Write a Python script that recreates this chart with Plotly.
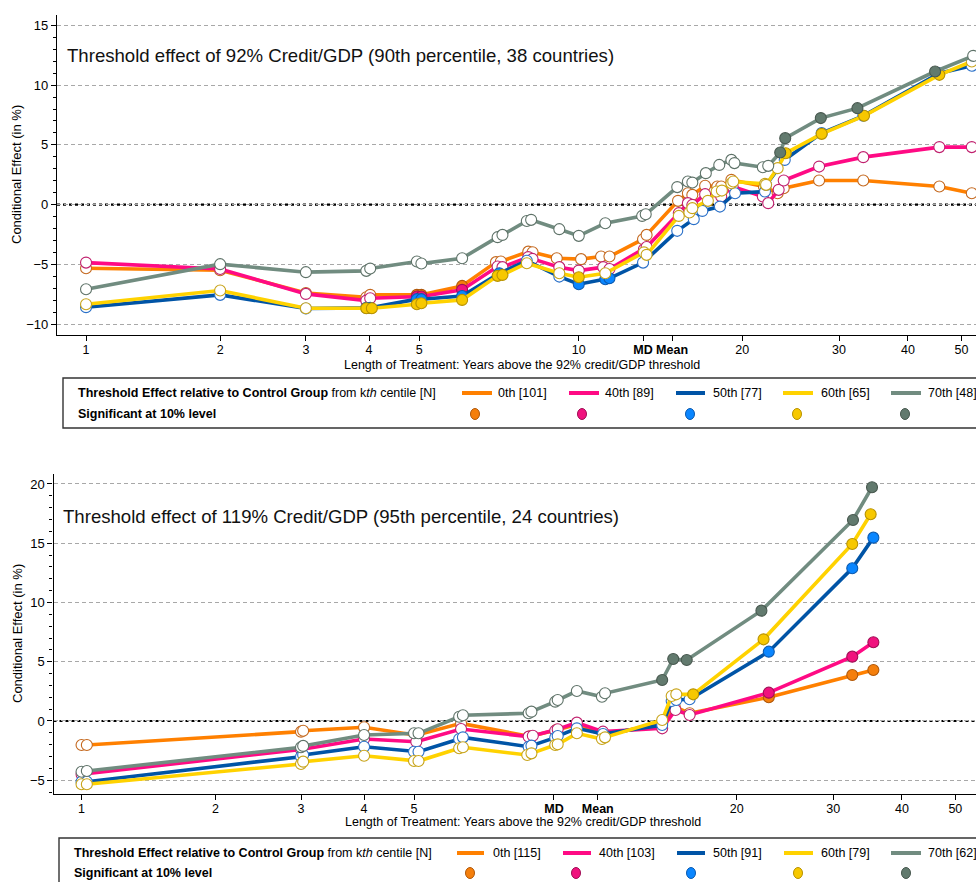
import plotly.graph_objects as go

W, H = 976, 882
OFFSET = 0.35  # treatment length is shown on a log(years + OFFSET) axis

# ---------------- Panel A: 92% Credit/GDP threshold ----------------
a_x_0 = [1, 2, 3, 3.95, 4.02, 4.95, 5.05, 6.04, 7.0, 7.15, 8.05, 8.2, 9.1, 10.1, 11.0, 11.4, 13.15, 13.35,
         15.25, 15.9, 16.2, 17.1, 18.0, 18.3, 19.1, 21.9, 23.2, 23.8, 27.6, 33.2, 45.6, 52.2]
a_y_0 = [-5.33, -5.5, -7.4, -7.76, -7.56, -7.56, -7.56, -6.81, -4.82, -4.77, -3.94, -3.99, -4.49, -4.57, -4.35, -4.35,
         -2.9, -2.54, 0.31, 0.95, 0.81, 1.57, 1.51, 1.51, 2.07, 1.51, 0.95, 1.37, 2.01, 2.01, 1.51, 0.95]
a_s_0 = [0, 0, 0, 0, 0, 1, 1, 1, 0, 0, 0, 0, 0, 0, 0, 0, 0, 0, 0, 0, 0, 0, 0, 0, 0, 0, 0, 0, 0, 0, 0, 0]

a_x_40 = [1, 2, 3, 3.95, 4.02, 4.95, 5.05, 6.04, 7.05, 7.2, 8.05, 8.2, 9.2, 10.0, 11.1, 11.4, 13.2, 13.35,
          15.3, 15.9, 16.2, 17.1, 18.3, 19.2, 21.8, 22.3, 23.3, 23.8, 27.6, 33.2, 45.6, 52.2]
a_y_40 = [-4.86, -5.4, -7.48, -8.04, -7.84, -7.7, -7.7, -7.14, -5.19, -5.24, -4.4, -4.55, -5.24, -5.53, -5.24, -5.4,
          -3.74, -3.55, -0.72, 0.12, -0.03, 0.87, 0.67, 1.51, 0.67, 0.12, 1.23, 2.01, 3.18, 3.97, 4.81, 4.81]
a_s_40 = [0, 0, 0, 0, 0, 1, 1, 1, 0, 0, 0, 0, 0, 0, 0, 0, 0, 0, 0, 0, 0, 0, 0, 0, 0, 0, 0, 0, 0, 0, 0, 0]

a_x_50 = [1, 2, 3, 3.95, 4.02, 4.95, 5.05, 6.04, 7.1, 8.0, 9.2, 10.0, 11.2, 11.4, 13.15, 15.2, 16.3, 16.9,
          18.2, 19.4, 22.0, 22.1, 23.9, 27.9, 33.2, 45.6, 52.2]
a_y_50 = [-8.59, -7.56, -8.7, -8.65, -8.65, -7.92, -7.92, -7.65, -5.75, -4.7, -6.03, -6.67, -6.25, -6.17, -4.86,
          -2.2, -1.22, -0.53, -0.17, 0.95, 1.09, 1.65, 3.74, 5.98, 7.43, 11.0, 11.62]
a_s_50 = [0, 0, 0, 1, 1, 1, 1, 1, 1, 0, 0, 1, 1, 1, 0, 0, 0, 0, 0, 0, 0, 0, 0, 0, 0, 0, 0]

a_x_60 = [1, 2, 3, 3.95, 4.05, 4.95, 5.05, 6.04, 7.05, 7.2, 8.0, 9.2, 10.0, 11.2, 13.2, 13.35, 15.3, 16.0,
          16.2, 17.3, 17.95, 18.35, 19.1, 19.25, 22.0, 22.1, 23.2, 24.0, 27.9, 33.3, 45.6, 52.2]
a_y_60 = [-8.34, -7.2, -8.68, -8.68, -8.68, -8.34, -8.26, -7.98, -5.97, -5.89, -4.91, -5.75, -6.08, -5.75, -4.0, -4.21,
          -0.95, -0.67, -0.30, 0.31, 1.09, 1.17, 1.79, 1.93, 1.73, 1.65, 3.05, 4.3, 5.92, 7.43, 10.86, 11.98]
a_s_60 = [0, 0, 0, 1, 1, 1, 1, 1, 1, 1, 0, 0, 1, 0, 0, 0, 0, 0, 0, 0, 0, 0, 0, 0, 0, 0, 0, 1, 1, 1, 1, 0]

a_x_70 = [1, 2, 3, 3.95, 4.02, 4.95, 5.05, 6.04, 7.05, 7.2, 8.0, 8.15, 9.2, 10.0, 11.2, 13.1, 13.3, 15.2,
          15.9, 16.2, 17.15, 18.15, 19.1, 19.35, 21.8, 22.3, 23.45, 23.95, 27.8, 32.4, 44.8, 52.5]
a_y_70 = [-7.09, -4.99, -5.66, -5.55, -5.36, -4.77, -4.94, -4.49, -2.73, -2.54, -1.37, -1.28, -2.06, -2.62, -1.56,
          -0.95, -0.81, 1.46, 1.93, 1.84, 2.63, 3.32, 3.74, 3.47, 3.13, 3.24, 4.36, 5.56, 7.24, 8.07, 11.14, 12.45]
a_s_70 = [0, 0, 0, 0, 0, 0, 0, 0, 0, 0, 0, 0, 0, 0, 0, 0, 0, 0, 0, 0, 0, 0, 0, 0, 0, 0, 1, 1, 1, 1, 1, 0]

a_n = ["101", "89", "77", "65", "48"]
a_md, a_mean = 13.15, 14.87

# ---------------- Panel B: 119% Credit/GDP threshold ----------------
b_x_0 = [1, 1.03, 3, 3.03, 4, 5.05, 6.15, 8.3, 9.3, 10.15, 11.35, 14.6, 15.4, 16.4, 22.9, 32.5, 35.5]
b_y_0 = [-2.03, -2.03, -0.9, -0.82, -0.53, -1.2, -0.2, -1.3, -0.75, -0.3, -1.2, -0.2, 1.2, 0.65, 2.0, 3.88, 4.3]
b_s_0 = [0, 0, 0, 0, 0, 0, 0, 0, 0, 0, 0, 0, 0, 0, 1, 1, 1]

b_x_40 = [1, 3, 4, 5.05, 6.15, 8.25, 8.4, 9.25, 9.35, 10.15, 11.35, 14.6, 15.45, 16.4, 22.9, 32.5, 35.5]
b_y_40 = [-4.5, -2.4, -1.52, -1.75, -0.68, -1.32, -1.24, -0.82, -0.7, -0.14, -0.9, -0.62, 0.93, 0.51, 2.39, 5.43, 6.64]
b_s_40 = [0, 0, 0, 0, 0, 0, 0, 0, 0, 0, 0, 0, 0, 0, 1, 1, 1]

b_x_50 = [1, 1.03, 3, 3.03, 4, 5.0, 5.1, 6.1, 6.2, 8.25, 8.35, 9.25, 9.35, 10.15, 11.35, 14.6, 15.2, 15.5,
          16.4, 22.9, 32.5, 35.5]
b_y_50 = [-5.12, -5.12, -3.01, -2.87, -2.17, -2.59, -2.59, -1.52, -1.38, -2.17, -2.08, -1.41, -1.27, -0.62, -1.1,
          -0.34, 1.69, 1.77, 1.83, 5.85, 12.89, 15.47]
b_s_50 = [0, 0, 0, 0, 0, 0, 0, 0, 0, 0, 0, 0, 0, 0, 0, 0, 0, 0, 0, 1, 1, 1]

b_x_60 = [1, 1.03, 3, 3.03, 4, 5.0, 5.1, 6.1, 6.2, 8.2, 8.35, 9.25, 9.35, 10.15, 11.3, 11.45, 14.6, 15.2, 15.5,
          16.65, 22.4, 32.5, 35.1]
b_y_60 = [-5.34, -5.34, -3.63, -3.43, -2.93, -3.38, -3.38, -2.3, -2.22, -2.87, -2.73, -2.03, -1.97, -1.04, -1.52,
          -1.38, 0.08, 2.11, 2.25, 2.25, 6.89, 14.94, 17.44]
b_s_60 = [0, 0, 0, 0, 0, 0, 0, 0, 0, 0, 0, 0, 0, 0, 0, 0, 0, 0, 0, 1, 1, 1, 1]

b_x_70 = [1, 1.03, 3, 3.03, 4, 5.0, 5.1, 6.1, 6.2, 8.25, 8.35, 9.25, 9.35, 10.15, 11.3, 11.45, 14.6, 15.3, 16.2,
          22.2, 32.6, 35.3]
b_y_70 = [-4.28, -4.22, -2.22, -2.1, -1.18, -1.04, -1.04, 0.36, 0.48, 0.65, 0.79, 1.63, 1.77, 2.53, 2.05, 2.34,
          3.46, 5.23, 5.15, 9.31, 16.96, 19.72]
b_s_70 = [0, 0, 0, 0, 0, 0, 0, 0, 0, 0, 0, 0, 0, 0, 0, 0, 1, 1, 1, 1, 1, 1]

b_n = ["115", "103", "91", "79", "62"]
b_md, b_mean = 9.2, 11.1

centiles = ["0th", "40th", "50th", "60th", "70th"]
line_col = ["#FF8000", "#FF0A84", "#0054A6", "#FFD200", "#718C80"]
fill_col = ["#F57F0C", "#F0127E", "#0A86FF", "#F7C800", "#627A6E"]
edge_sig = ["#B0580A", "#A00E55", "#0B5AB0", "#B89200", "#48584F"]
edge_open = ["#C4681E", "#C0206E", "#2A70C8", "#C8A41A", "#5E7268"]

year_ticks = [1, 2, 3, 4, 5, 10, 20, 30, 40, 50]

SANS = "Liberation Sans, Arial, sans-serif"
NARROW = "Liberation Sans Narrow, Arial Narrow, Liberation Sans, sans-serif"


def fx(px):
    return px / W


def fy(py):
    return 1 - py / H


fig = go.Figure()

panels = [
    ("x", "y", [(a_x_0, a_y_0, a_s_0), (a_x_40, a_y_40, a_s_40), (a_x_50, a_y_50, a_s_50),
                (a_x_60, a_y_60, a_s_60), (a_x_70, a_y_70, a_s_70)]),
    ("x2", "y2", [(b_x_0, b_y_0, b_s_0), (b_x_40, b_y_40, b_s_40), (b_x_50, b_y_50, b_s_50),
                  (b_x_60, b_y_60, b_s_60), (b_x_70, b_y_70, b_s_70)]),
]

for xa, ya, series in panels:
    for i, (xs, ys, sig) in enumerate(series):
        fig.add_trace(go.Scatter(
            x=[v + OFFSET for v in xs], y=ys, mode="lines+markers",
            xaxis=xa, yaxis=ya, showlegend=False, name=centiles[i],
            line=dict(color=line_col[i], width=3.6),
            marker=dict(size=11,
                        color=[fill_col[i] if s else "white" for s in sig],
                        line=dict(color=[edge_sig[i] if s else edge_open[i] for s in sig], width=1.1)),
        ))


def x_axis(domain, lo, hi, md, mean, show10, anchor):
    ticks = [t for t in year_ticks if show10 or t != 10]
    vals = ticks + [md, mean]
    txt = [str(t) for t in ticks] + ["<b>MD</b>", "<b>Mean</b>"]
    return dict(
        type="log", domain=domain, range=[lo, hi], anchor=anchor,
        tickvals=[v + OFFSET for v in vals], ticktext=txt,
        ticks="outside", ticklen=5, tickwidth=1, tickcolor="black", ticklabelstandoff=-2,
        showline=True, linecolor="black", linewidth=1.2, showgrid=False, zeroline=False,
        tickfont=dict(family=NARROW, size=12.5, color="black"), automargin=False,
    )


def y_axis(domain, rng, anchor):
    return dict(
        domain=domain, range=rng, dtick=5, tick0=0, anchor=anchor,
        ticks="outside", ticklen=5, tickwidth=1, tickcolor="black",
        minor=dict(dtick=1, ticks="outside", ticklen=3, tickcolor="black", showgrid=False),
        showline=True, linecolor="black", linewidth=1.2,
        showgrid=True, gridcolor="#A8A8A8", gridwidth=1, griddash="4px,3px",
        zeroline=False, tickfont=dict(family=SANS, size=13, color="black"), automargin=False,
    )


fig.update_layout(
    width=W, height=H, margin=dict(l=0, r=0, t=0, b=0),
    paper_bgcolor="white", plot_bgcolor="white",
    xaxis=x_axis([57 / W, 1], 0.0782, 1.7281, a_md, a_mean, True, "y"),
    xaxis2=x_axis([53.5 / W, 1], 0.0799, 1.7391, b_md, b_mean, False, "y2"),
    yaxis=y_axis([1 - 335 / H, 1 - 15 / H], [-10.92, 15.87], "x"),
    yaxis2=y_axis([1 - 794 / H, 1 - 474 / H], [-6.16, 20.84], "x2"),
)

shapes = []
# dotted zero reference lines
for xr, yr in [("x domain", "y"), ("x2 domain", "y2")]:
    shapes.append(dict(type="line", xref=xr, yref=yr, x0=0, x1=1, y0=0, y1=0, layer="below",
                       line=dict(color="black", width=2.2, dash="3px,3px")))

ann = []
ann.append(dict(x=fx(65), y=fy(55), text="Threshold effect of 92% Credit/GDP (90th percentile, 38 countries)",
                xanchor="left", yanchor="middle", font=dict(family=SANS, size=18.6, color="#111")))
ann.append(dict(x=fx(61), y=fy(516), text="Threshold effect of 119% Credit/GDP (95th percentile, 24 countries)",
                xanchor="left", yanchor="middle", font=dict(family=SANS, size=18.6, color="#111")))
for cy in (175, 634):
    ann.append(dict(x=fx(17), y=fy(cy), text="Conditional Effect (in %)", textangle=-90,
                    xanchor="center", yanchor="middle", font=dict(family=SANS, size=13, color="black")))
for cx, cy in ((522, 365), (523, 822)):
    ann.append(dict(x=fx(cx), y=fy(cy), text="Length of Treatment: Years above the 92% credit/GDP threshold",
                    xanchor="center", yanchor="middle", font=dict(family=NARROW, size=12.5, color="black")))

# legend boxes drawn below each panel
legends = [
    dict(box_x=63, top=378, row1=393, row2=414, text_x=76,
         line_x=[(462, 492), (569, 599), (676, 705), (783, 813), (891, 921)],
         lab_x=[496, 603, 711, 819, 926], dot_x=[475, 582, 690, 797, 905], n=a_n),
    dict(box_x=59, top=838, row1=853, row2=873, text_x=72,
         line_x=[(457, 484), (563, 591), (677, 705), (784, 813), (891, 921)],
         lab_x=[491, 597, 711, 819, 926], dot_x=[470, 576, 691, 798, 906], n=b_n),
]
for lg in legends:
    shapes.append(dict(type="rect", xref="paper", yref="paper",
                       x0=fx(lg["box_x"]), x1=fx(1000), y0=fy(lg["top"] + 50), y1=fy(lg["top"]),
                       line=dict(color="#333333", width=1.4)))
    ann.append(dict(x=fx(lg["text_x"]), y=fy(lg["row1"]), xanchor="left", yanchor="middle",
                    text="<b>Threshold Effect relative to Control Group</b> from k<i>th</i> centile [N]",
                    font=dict(family=NARROW, size=12.5, color="black")))
    ann.append(dict(x=fx(lg["text_x"]), y=fy(lg["row2"]), xanchor="left", yanchor="middle",
                    text="<b>Significant at 10% level</b>",
                    font=dict(family=NARROW, size=12.5, color="black")))
    for i in range(5):
        x0, x1 = lg["line_x"][i]
        shapes.append(dict(type="line", xref="paper", yref="paper", x0=fx(x0), x1=fx(x1),
                           y0=fy(lg["row1"]), y1=fy(lg["row1"]), line=dict(color=line_col[i], width=4)))
        ann.append(dict(x=fx(lg["lab_x"][i]), y=fy(lg["row1"]), xanchor="left", yanchor="middle",
                        text=f"{centiles[i]} [{lg['n'][i]}]", font=dict(family=NARROW, size=12.5, color="black")))
        dx = lg["dot_x"][i]
        shapes.append(dict(type="circle", xref="paper", yref="paper",
                           x0=fx(dx - 4.5), x1=fx(dx + 4.5), y0=fy(lg["row2"] + 5.5), y1=fy(lg["row2"] - 5.5),
                           fillcolor=fill_col[i], line=dict(color=edge_sig[i], width=1)))

for a in ann:
    a.update(xref="paper", yref="paper", showarrow=False)
fig.update_layout(annotations=ann, shapes=shapes)

fig.write_html("out.html")
